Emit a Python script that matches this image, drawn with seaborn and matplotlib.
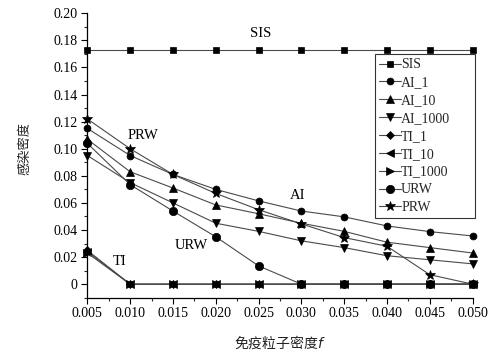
import numpy as np
import pandas as pd
import matplotlib
matplotlib.use("Agg")
import matplotlib.pyplot as plt
import seaborn as sns
from matplotlib.ticker import MultipleLocator, FixedLocator

# ---- data ----
f_vals = [0.005, 0.010, 0.015, 0.020, 0.025, 0.030, 0.035, 0.040, 0.045, 0.050]
sis = [0.173] * 10
ai_1 = [0.115, 0.095, 0.081, 0.070, 0.0615, 0.054, 0.0497, 0.043, 0.0388, 0.0356]
ai_10 = [0.107, 0.083, 0.071, 0.0585, 0.052, 0.045, 0.039, 0.031, 0.027, 0.023]
ai_1000 = [0.095, 0.075, 0.060, 0.045, 0.039, 0.032, 0.027, 0.021, 0.018, 0.015]
ti_1 = [0.025, 0, 0, 0, 0, 0, 0, 0, 0, 0]
ti_10 = [0.024, 0, 0, 0, 0, 0, 0, 0, 0, 0]
ti_1000 = [0.023, 0, 0, 0, 0, 0, 0, 0, 0, 0]
urw = [0.104, 0.0735, 0.054, 0.035, 0.0135, 0, 0, 0, 0, 0]
prw = [0.122, 0.100, 0.081, 0.067, 0.055, 0.0445, 0.0344, 0.028, 0.007, 0.0]

series_names = ["SIS", "AI_1", "AI_10", "AI_1000", "TI_1", "TI_10", "TI_1000", "URW", "PRW"]
series_vals = [sis, ai_1, ai_10, ai_1000, ti_1, ti_10, ti_1000, urw, prw]
markers = ["s", "o", "^", "v", "D", "<", ">", "o", "*"]
msizes = [5, 5, 5.5, 5.5, 4.5, 5.5, 5.5, 6, 7.5]

x_ticks = [0.005, 0.010, 0.015, 0.020, 0.025, 0.030, 0.035, 0.040, 0.045, 0.050]
x_ticklabels = ["0.005", "0.010", "0.015", "0.020", "0.025", "0.030", "0.035", "0.040", "0.045", "0.050"]
y_ticks = [0, 0.02, 0.04, 0.06, 0.08, 0.10, 0.12, 0.14, 0.16, 0.18, 0.20]
y_ticklabels = ["0", "0.02", "0.04", "0.06", "0.08", "0.10", "0.12", "0.14", "0.16", "0.18", "0.20"]

annotations = [("SIS", 0.0252, 0.1854), ("PRW", 0.0115, 0.1097), ("AI", 0.0296, 0.0652),
               ("URW", 0.0172, 0.0283), ("TI", 0.0088, 0.0170)]

# ---- style ----
sns.set_style("ticks")
plt.rcParams["font.family"] = ["Liberation Serif", "Noto Sans CJK SC"]

fig = plt.figure(figsize=(5.01, 3.5), dpi=100)
ax = fig.add_axes([0.1743, 0.1494, 0.7690, 0.8126])

for name, vals, m, ms in zip(series_names, series_vals, markers, msizes):
    df = pd.DataFrame({"f": f_vals, "density": vals})
    sns.lineplot(data=df, x="f", y="density", ax=ax, color="#4a4a4a", linewidth=0.8,
                 marker=m, markersize=ms, markerfacecolor="black", markeredgecolor="black",
                 markeredgewidth=0.5, label=name, clip_on=False)

ax.set_xlim(0.005, 0.050)
ax.set_ylim(-0.01, 0.20)
ax.xaxis.set_major_locator(FixedLocator(x_ticks))
ax.set_xticklabels(x_ticklabels)
ax.xaxis.set_minor_locator(MultipleLocator(0.0025))
ax.yaxis.set_major_locator(FixedLocator(y_ticks))
ax.set_yticklabels(y_ticklabels)
ax.yaxis.set_minor_locator(MultipleLocator(0.01))
ax.tick_params(axis="both", which="major", direction="out", length=4, width=0.8,
               labelsize=10, colors="black", pad=3)
ax.tick_params(axis="both", which="minor", direction="out", length=2.5, width=0.8)

sns.despine(ax=ax)
for s in ["left", "bottom"]:
    ax.spines[s].set_color("black")
    ax.spines[s].set_linewidth(0.9)

ax.set_xlabel("")
ax.set_ylabel("")
fig.text(0.05, 0.575, "感染密度", rotation=90, ha="center", va="center", fontsize=9.5,
         family=["Noto Sans CJK SC"], color="#222222")
ax.text(0.5, -0.155, "免疫粒子密度$\\it{f}$", transform=ax.transAxes, ha="center", va="center",
        fontsize=10, family=["Noto Sans CJK SC", "Liberation Serif"], color="#222222")

for txt, xv, yv in annotations:
    ax.text(xv, yv, txt, ha="center", va="center", fontsize=10.5, color="black")

leg = ax.legend(loc="upper left", bbox_to_anchor=(0.746, 0.3, 0.26, 0.556), mode="expand",
                frameon=True, fancybox=False,
                fontsize=10, handlelength=1.6, handletextpad=0.0, borderpad=0.3,
                labelspacing=0.35, borderaxespad=0)
leg.get_frame().set_edgecolor("black")
leg.get_frame().set_linewidth(0.8)

fig.savefig("out.png", dpi=100)
